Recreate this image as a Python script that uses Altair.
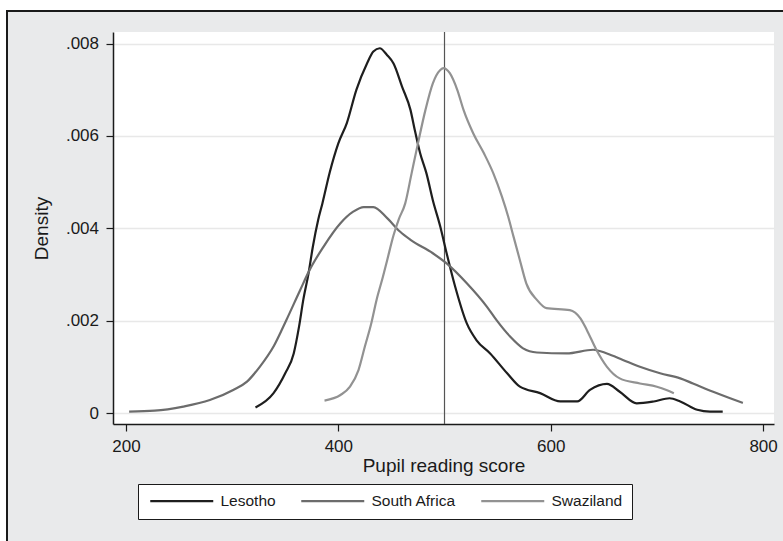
import altair as alt
import pandas as pd

# ---- data ----
lesotho_x = [322, 339, 350, 358, 363, 367, 372, 376, 381, 385, 392, 400, 408, 417, 427, 433, 439, 446, 452, 460,
             468, 472, 477, 483, 489, 496, 502, 510, 521, 530, 543, 559, 571, 590, 609, 625, 637, 653, 665, 681,
             697, 712, 722, 738, 750, 762]
lesotho_y = [0.00012, 0.00043, 0.00086, 0.00129, 0.00187, 0.00245, 0.00303, 0.00360, 0.00418, 0.00454,
             0.00522, 0.00584, 0.00628, 0.00700, 0.00757, 0.00783, 0.00790, 0.00775, 0.00757, 0.00707,
             0.00656, 0.00613, 0.00563, 0.00519, 0.00461, 0.00404, 0.00346, 0.00274, 0.00194, 0.00158,
             0.00129, 0.00086, 0.00057, 0.00043, 0.00025, 0.00025, 0.00050, 0.00063, 0.00046, 0.00021,
             0.00025, 0.00032, 0.00025, 0.00007, 0.00003, 0.00003]

sa_x = [203, 227, 254, 279, 301, 314, 326, 339, 351, 364, 373, 386, 402, 414, 424, 433, 446, 458, 468, 489,
        502, 521, 540, 549, 562, 574, 587, 615, 640, 653, 668, 684, 703, 722, 734, 753, 769, 781]
sa_y = [0.00003, 0.00005, 0.00014, 0.00028, 0.00050, 0.00068, 0.00100, 0.00144, 0.00201, 0.00266,
        0.00310, 0.00360, 0.00411, 0.00436, 0.00446, 0.00446, 0.00422, 0.00393, 0.00375, 0.00346,
        0.00324, 0.00281, 0.00230, 0.00201, 0.00165, 0.00140, 0.00131, 0.00129, 0.00137, 0.00129,
        0.00115, 0.00100, 0.00086, 0.00075, 0.00064, 0.00046, 0.00032, 0.00022]

sw_x = [387, 402, 411, 419, 425, 431, 436, 442, 446, 452, 457, 463, 469, 475, 482, 489, 496, 499, 505, 512,
        518, 527, 537, 546, 554, 560, 565, 571, 577, 587, 596, 618, 628, 634, 643, 653, 665, 684, 700, 709, 716]
sw_y = [0.00027, 0.00039, 0.00057, 0.00093, 0.00144, 0.00194, 0.00245, 0.00295, 0.00331, 0.00385,
        0.00420, 0.00454, 0.00519, 0.00584, 0.00656, 0.00714, 0.00743, 0.00747, 0.00736, 0.00700,
        0.00656, 0.00606, 0.00563, 0.00519, 0.00469, 0.00425, 0.00382, 0.00331, 0.00281, 0.00245,
        0.00227, 0.00223, 0.00205, 0.00180, 0.00137, 0.00100, 0.00075, 0.00064, 0.00057, 0.00050, 0.00043]

countries = ["Lesotho", "South Africa", "Swaziland"]
colors = ["#1e1e1e", "#6c6c6c", "#929292"]
x_ticks = [200, 400, 600, 800]
y_ticks = [0, 0.002, 0.004, 0.006, 0.008]
ref_score = [500]

# ---- tables ----
rows = []
for name, xs, ys in zip(countries, [lesotho_x, sa_x, sw_x], [lesotho_y, sa_y, sw_y]):
    for i, (a, b) in enumerate(zip(xs, ys)):
        rows.append({"country": name, "score": a, "density": b, "order": i})
df = pd.DataFrame(rows)
ref_df = pd.DataFrame({"ref": ref_score})
dummy = pd.DataFrame({"a": [0]})

FONT = "Liberation Sans, Arial, sans-serif"
W, H = 661, 392
xscale = alt.Scale(domain=[187.8, 810.3], nice=False, zero=False)
yscale = alt.Scale(domain=[-0.000238, 0.008252], nice=False, zero=False)

xaxis = alt.Axis(values=x_ticks, title="Pupil reading score", format="d", grid=False,
                 titleX=W / 2, titleY=47, titleBaseline="alphabetic", titleAlign="center")
yaxis = alt.Axis(values=y_ticks, title="Density", grid=True, gridColor="#e8e8e8", gridWidth=1.5,
                 labelExpr="datum.value == 0 ? '0' : replace(format(datum.value, '.3f'), '0.', '.')",
                 titleX=-71.5, titleY=H / 2, titleAngle=270, titleBaseline="middle", titleAlign="center")

ref = alt.Chart(ref_df).mark_rule(color="#555555", strokeWidth=1.2).encode(
    x=alt.X("ref:Q", scale=xscale, axis=xaxis)
)
lines = alt.Chart(df).mark_line(strokeWidth=2.2, interpolate="monotone").encode(
    x=alt.X("score:Q", scale=xscale, axis=xaxis),
    y=alt.Y("density:Q", scale=yscale, axis=yaxis),
    color=alt.Color("country:N", scale=alt.Scale(domain=countries, range=colors),
                    legend=alt.Legend(title=None, orient="none", legendX=25, legendY=452, direction="horizontal",
                                      columns=3, symbolType="M-1,0L13,0", symbolSize=81, symbolStrokeWidth=2.2,
                                      labelOffset=58, columnPadding=20, padding=9, fillColor="white",
                                      strokeColor="#1a1a1a", labelFontSize=15.5, labelFont=FONT,
                                      labelColor="#1a1a1a", cornerRadius=0, symbolOpacity=1)),
    order="order:Q",
)

# outer graph frame (decoration only, outside the plot area)
white_top = alt.Chart(dummy).mark_rule(color="white", strokeWidth=11).encode(
    x=alt.value(-113), x2=alt.value(W + 9), y=alt.value(-26.5)
)
white_left = alt.Chart(dummy).mark_rule(color="white", strokeWidth=7).encode(
    x=alt.value(-109.5), y=alt.value(-32), y2=alt.value(H + 117)
)
frame_left = alt.Chart(dummy).mark_rule(color="#1a1a1a", strokeWidth=2).encode(
    x=alt.value(-106), y=alt.value(-22), y2=alt.value(H + 117)
)
frame_top = alt.Chart(dummy).mark_rule(color="#1a1a1a", strokeWidth=2).encode(
    x=alt.value(-107), x2=alt.value(W + 9), y=alt.value(-21)
)

chart = alt.layer(ref, lines, white_top, white_left, frame_left, frame_top).properties(
    width=W, height=H,
    autosize=alt.AutoSizeParams(type="none"),
    padding={"left": 113, "top": 32, "right": 9, "bottom": 117},
    background="#e9eaeb",
).configure_view(stroke=None, fill="white").configure_axis(
    domainColor="#1a1a1a", domainWidth=1.5, tickColor="#1a1a1a", tickWidth=1.2, tickSize=7,
    labelFont=FONT, labelFontSize=17, labelColor="#1a1a1a", labelPadding=7.5,
    titleFont=FONT, titleFontSize=19, titleFontWeight="normal", titleColor="#1a1a1a",
)

chart.save("out.html", embed_options={"renderer": "svg", "actions": False})
